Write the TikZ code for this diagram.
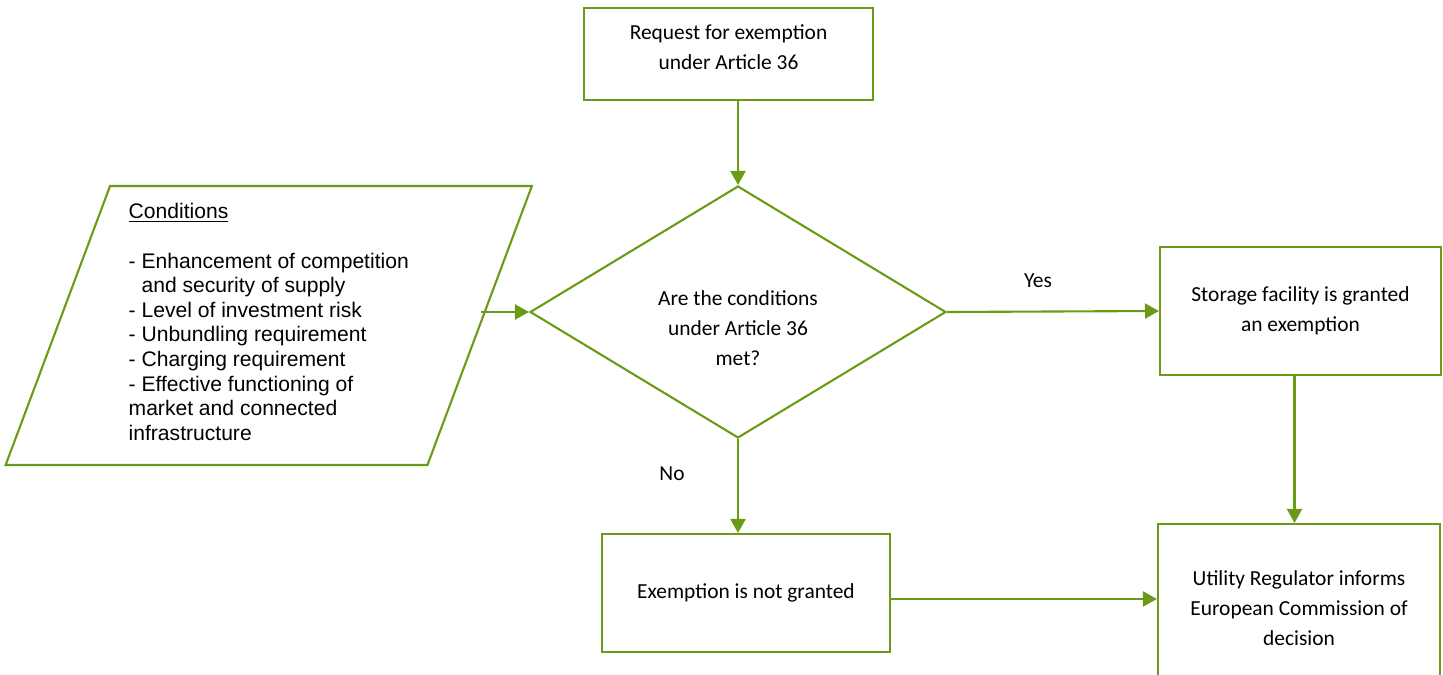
\documentclass[tikz,border=0pt]{standalone}
\usepackage{fontspec}
\setmainfont{Carlito}
\newfontfamily\arialfont{Liberation Sans}
\usetikzlibrary{arrows.meta,shapes.geometric}
\definecolor{flowgreen}{RGB}{107,155,22}

\begin{document}
\begin{tikzpicture}[x=0.02cm,y=-0.02cm,
  box/.style={draw=flowgreen,line width=1.2pt,rectangle,align=center,inner sep=0pt,font=\fontsize{12.2}{17}\selectfont},
  decision/.style={draw=flowgreen,line width=1.2pt,diamond,inner sep=0pt,minimum width=8.32cm,minimum height=5.04cm},
  data/.style={draw=flowgreen,line width=1.2pt,trapezium,trapezium left angle=69.4,trapezium right angle=110.6,
    minimum width=9.98cm,minimum height=5.58cm,align=left,font=\arialfont\fontsize{12}{14}\selectfont},
  flow/.style={draw=flowgreen,line width=1.2pt,-{Triangle[length=0.28cm,width=0.3cm]}},
  tag/.style={font=\fontsize{12.2}{17}\selectfont}]
  \clip (0,0) rectangle (1443,675);
  \node[box,minimum width=5.78cm,minimum height=1.84cm] (request) at (728.5,54) {Request for exemption\\under Article 36\\[-9pt]};
  \node[decision,label={[tag,align=center,yshift=-0.32cm]center:Are the conditions\\under Article 36\\met?}] (check) at (738,312) {};
  \node[data] (conditions) at (268.75,325.5) {\underline{Conditions}\\[14pt]
    - Enhancement of competition\\
    \hphantom{- }and security of supply\\
    - Level of investment risk\\
    - Unbundling requirement\\
    - Charging requirement\\
    - Effective functioning of\\
    market and connected\\
    infrastructure\\[-10pt]};
  \node[box,minimum width=5.62cm,minimum height=2.56cm] (granted) at (1300.5,311) {Storage facility is granted\\an exemption};
  \node[box,minimum width=5.76cm,minimum height=2.36cm] (refused) at (746,593) {Exemption is not granted};
  \node[box,minimum width=5.64cm,minimum height=3.36cm] (inform) at (1299,608) {Utility Regulator informs\\European Commission of\\decision};
  \node[tag] (yes) at (1038,281) {Yes};
  \node[tag] (no) at (672,474) {No};
  \draw[flow] (check.north |- request.south) -- (check.north);
  \draw[flow] (conditions.east |- check.west) -- (check.west);
  \draw[flow] (check.east) -- (granted.west);
  \draw[flow] (check.south) -- (check.south |- refused.north);
  \draw[flow] ([xshift=-0.12cm]granted.south) -- ([xshift=-0.12cm]granted.south |- inform.north);
  \draw[flow] ([yshift=-0.12cm]refused.east) -- ([yshift=-0.12cm]refused.east -| inform.west);
\end{tikzpicture}
\end{document}
